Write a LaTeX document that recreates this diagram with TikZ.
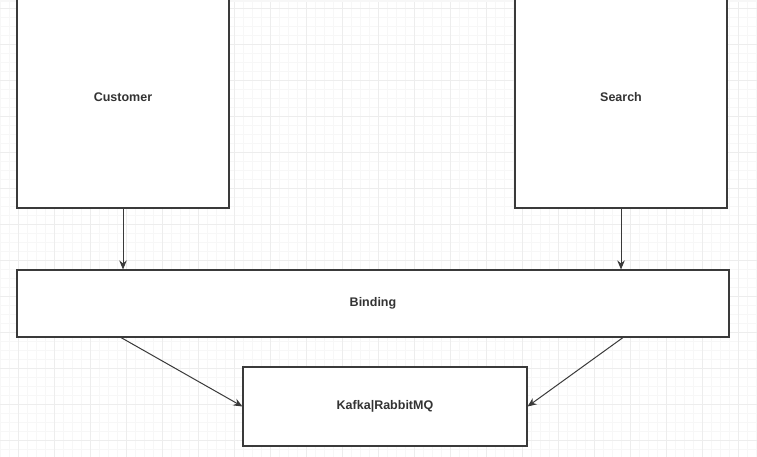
\documentclass[tikz,border=0pt]{standalone}
\usepackage{fontspec}
\setmainfont{Liberation Sans}
\usetikzlibrary{arrows.meta}

\definecolor{edgegray}{HTML}{3A3A3A}
\definecolor{textgray}{HTML}{333333}
\definecolor{minorgrid}{HTML}{F7F7F7}
\definecolor{majorgrid}{HTML}{EDEDED}

\tikzset{
    box/.style={draw=edgegray, line width=1.1pt, fill=white, inner sep=0pt,
        font=\bfseries\fontsize{12.5}{14}\selectfont, text=textgray},
    link/.style={draw=edgegray, line width=1pt, -{Stealth[length=9pt,width=7.5pt]}}
}

\begin{document}
\begin{tikzpicture}[x=1pt, y=1pt]
        \useasboundingbox (0,0) rectangle (757,457);
        \fill[white] (0,0) rectangle (757,457);

        % background grid
        \draw[minorgrid, line width=0.6pt, xshift=18pt, yshift=17pt, step=9pt] (-18,-17) grid (739,440);
        \draw[majorgrid, line width=0.8pt, xshift=18pt, yshift=17pt, step=36pt] (-18,-17) grid (739,440);
        \fill[minorgrid] (0,455) rectangle (757,457);

        % boxes
        \node[box, minimum width=212pt, minimum height=222pt] (customer) at (123,360) {Customer};
        \node[box, minimum width=212pt, minimum height=222pt] (search) at (621,360) {Search};
        \node[box, minimum width=712pt, minimum height=67pt] (binding) at (373,153.5) {Binding};
        \node[box, minimum width=284pt, minimum height=79pt] (mq) at (385,50.5) {Kafka|RabbitMQ};

        % connectors
        \draw[link] (customer.south) -- (customer.south |- binding.north);
        \draw[link] (search.south) -- (search.south |- binding.north);
        \coordinate (bindleft) at ([xshift=-252pt]binding.south);
        \coordinate (bindright) at ([xshift=250pt]binding.south);
        \draw[link] (bindleft) -- (mq.west);
        \draw[link] (bindright) -- (mq.east);

    \end{tikzpicture}
\end{document}
